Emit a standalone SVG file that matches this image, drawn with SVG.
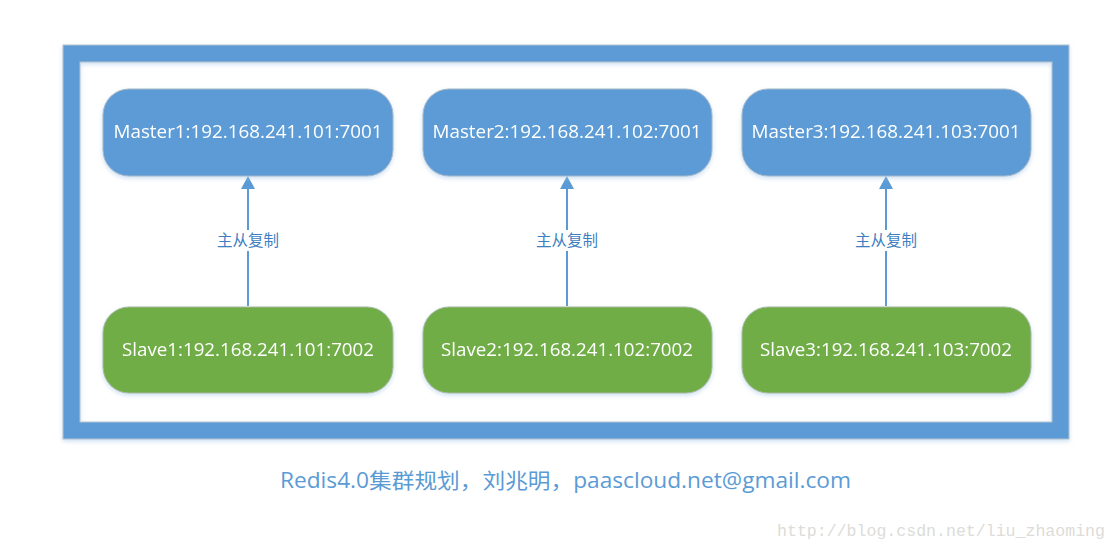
<svg xmlns="http://www.w3.org/2000/svg" width="1117" height="551" viewBox="0 0 1117 551">
<style>
.master{fill:#5b9bd5;stroke:#a9b9c9;stroke-width:1}
.slave{fill:#70ad47;stroke:#a9b9a0;stroke-width:1}
.nt{font-family:"Open Sans","Liberation Sans",sans-serif;font-size:17.5px;fill:#ffffff;text-anchor:middle}
.lbl{font-family:"Noto Sans CJK SC",sans-serif;font-size:15.5px;fill:#3f7fbf;text-anchor:middle}
.edge{stroke:#5b9bd5;stroke-width:2;fill:none}
</style>
<defs>
<filter id="sh" x="-10%" y="-10%" width="120%" height="130%">
<feDropShadow dx="0" dy="2" stdDeviation="2" flood-color="#9dc3e6" flood-opacity="0.5"/>
</filter>
</defs>
<rect width="1117" height="551" fill="#ffffff"/>
<g id="frame" filter="url(#sh)">
<rect x="71.5" y="53.5" width="989" height="377" fill="none" stroke="#5b9bd5" stroke-width="17"/>
<rect x="63" y="45" width="1006" height="394" fill="none" stroke="#b8c4cf" stroke-width="1"/>
<rect x="80" y="62" width="972" height="360" fill="none" stroke="#b8c4cf" stroke-width="1"/>
</g>
<g id="connectors">
<line class="edge" x1="248" y1="306" x2="248" y2="251"/>
<line class="edge" x1="248" y1="230" x2="248" y2="189"/>
<path d="M241,189 L248,176 L255,189 Z" fill="#5b9bd5"/>
<text class="lbl" x="248" y="246">主从复制</text>
<line class="edge" x1="567" y1="306" x2="567" y2="251"/>
<line class="edge" x1="567" y1="230" x2="567" y2="189"/>
<path d="M560,189 L567,176 L574,189 Z" fill="#5b9bd5"/>
<text class="lbl" x="567" y="246">主从复制</text>
<line class="edge" x1="886" y1="306" x2="886" y2="251"/>
<line class="edge" x1="886" y1="230" x2="886" y2="189"/>
<path d="M879,189 L886,176 L893,189 Z" fill="#5b9bd5"/>
<text class="lbl" x="886" y="246">主从复制</text>
</g>
<g id="master1" filter="url(#sh)">
<rect class="master" x="103" y="89" width="290" height="87" rx="26"/>
<text class="nt" x="248" y="138" textLength="269" lengthAdjust="spacingAndGlyphs">Master1:192.168.241.101:7001</text>
</g>
<g id="master2" filter="url(#sh)">
<rect class="master" x="423" y="89" width="289" height="87" rx="26"/>
<text class="nt" x="567" y="138" textLength="269" lengthAdjust="spacingAndGlyphs">Master2:192.168.241.102:7001</text>
</g>
<g id="master3" filter="url(#sh)">
<rect class="master" x="742" y="89" width="289" height="87" rx="26"/>
<text class="nt" x="886" y="138" textLength="269" lengthAdjust="spacingAndGlyphs">Master3:192.168.241.103:7001</text>
</g>
<g id="slave1" filter="url(#sh)">
<rect class="slave" x="103" y="307" width="290" height="86" rx="26"/>
<text class="nt" x="248" y="356" textLength="252" lengthAdjust="spacingAndGlyphs">Slave1:192.168.241.101:7002</text>
</g>
<g id="slave2" filter="url(#sh)">
<rect class="slave" x="423" y="307" width="289" height="86" rx="26"/>
<text class="nt" x="567" y="356" textLength="252" lengthAdjust="spacingAndGlyphs">Slave2:192.168.241.102:7002</text>
</g>
<g id="slave3" filter="url(#sh)">
<rect class="slave" x="742" y="307" width="289" height="86" rx="26"/>
<text class="nt" x="886" y="356" textLength="252" lengthAdjust="spacingAndGlyphs">Slave3:192.168.241.103:7002</text>
</g>
<text x="280" y="488" font-family="'Open Sans','Noto Sans CJK SC',sans-serif" font-size="21" fill="#5b9bd5" textLength="571" lengthAdjust="spacingAndGlyphs">Redis4.0集群规划，刘兆明，paascloud.net@gmail.com</text>
<text x="777" y="536" font-family="'Liberation Mono',monospace" font-size="16" fill="#dcdcd8" textLength="328" lengthAdjust="spacingAndGlyphs">http://blog.csdn.net/liu_zhaoming</text>
</svg>
